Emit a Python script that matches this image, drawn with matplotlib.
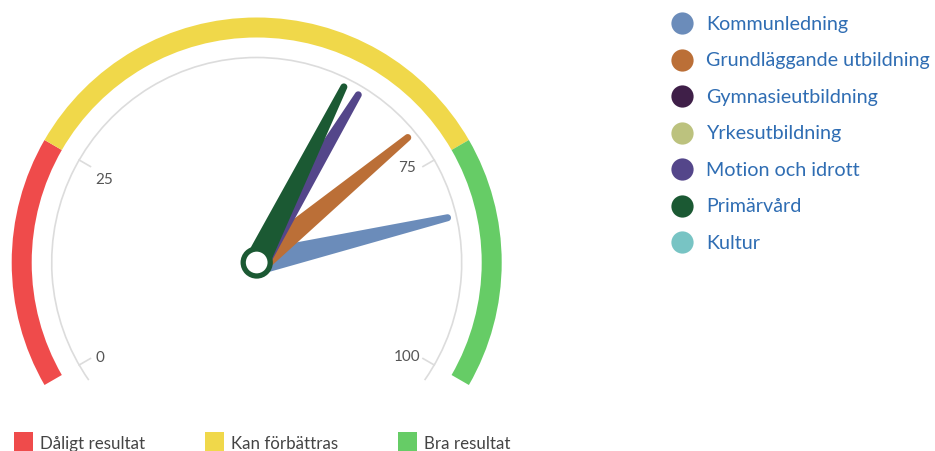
"""
Mätare (gauge) med visare per verksamhetsområde.

Kör:
    python3 plot.py
Skapar:
    out.png
"""

import numpy as np
from matplotlib import pyplot as plt
from matplotlib.patches import Wedge, Arc, Circle, Polygon, Rectangle

plt.rcParams["font.family"] = ["Lato", "DejaVu Sans"]

# --- data ---
series_names = [
    "Kommunledning",
    "Grundläggande utbildning",
    "Gymnasieutbildning",
    "Yrkesutbildning",
    "Motion och idrott",
    "Primärvård",
    "Kultur",
]
series_values = [82, 71, None, None, 63, 61, None]
series_colors = ["#6b8cba", "#bb6f37", "#3f1f48", "#bcc27e", "#54468a", "#1b5933", "#78c4c4"]

band_names = ["Dåligt resultat", "Kan förbättras", "Bra resultat"]
band_from = [0, 25, 75]
band_to = [25, 75, 100]
band_colors = ["#ef4b4b", "#f0d84a", "#66cc66"]

tick_values = [0, 25, 75, 100]
tick_labels = ["0", "25", "75", "100"]

# --- layout (pixel units, y upwards) ---
W, H = 935, 452
CX, CY = 256.7, H - 263.5
R_BAND, BAND_W = 245, 20
R_AXIS = 205
NEEDLE_LEN = 196
BASE_W, TOP_W = 25, 7
START, SWEEP = 210.0, 240.0
# små förskjutningar av tick-etiketter (px)
LABEL_NUDGE = [(-3, -5), (2, -6), (-4, 6), (-4, -5)]


def val2ang(v):
    """värde -> vinkel i grader (matematisk konvention)."""
    return START - v / 100.0 * SWEEP


def needle_poly(v):
    a = np.radians(val2ang(v))
    u = np.array([np.cos(a), np.sin(a)])
    n = np.array([-np.sin(a), np.cos(a)])
    c = np.array([CX, CY])
    pts = [c - n * BASE_W / 2, c + u * NEEDLE_LEN - n * TOP_W / 2]
    for t in np.linspace(-np.pi / 2, np.pi / 2, 15):
        pts.append(c + u * NEEDLE_LEN + (u * np.cos(t) + n * np.sin(t)) * TOP_W / 2)
    pts.append(c + n * BASE_W / 2)
    return np.array(pts)


fig = plt.figure(figsize=(W / 100, H / 100), dpi=100)
ax = fig.add_axes([0, 0, 1, 1])
ax.set_xlim(0, W)
ax.set_ylim(0, H)
ax.set_aspect("equal")
ax.axis("off")

# färgband
for lo, hi, col in zip(band_from, band_to, band_colors):
    ax.add_patch(Wedge((CX, CY), R_BAND, val2ang(hi), val2ang(lo), width=BAND_W,
                       facecolor=col, edgecolor="none"))

# axelbåge + tickar
ax.add_patch(Arc((CX, CY), 2 * R_AXIS, 2 * R_AXIS, theta1=-35, theta2=215,
                 color="#dcdcdc", lw=1.2))
for v, lab, (dx, dy) in zip(tick_values, tick_labels, LABEL_NUDGE):
    a = np.radians(val2ang(v))
    ax.plot([CX + R_AXIS * np.cos(a), CX + (R_AXIS - 13) * np.cos(a)],
            [CY + R_AXIS * np.sin(a), CY + (R_AXIS - 13) * np.sin(a)],
            color="#dcdcdc", lw=1.2)
    ax.text(CX + 178 * np.cos(a) + dx, CY + 178 * np.sin(a) + dy, lab, fontsize=11,
            color="#555555", ha="center", va="center")

# visare
for v, col in zip(series_values, series_colors):
    if v is None:
        continue
    ax.add_patch(Polygon(needle_poly(v), closed=True, facecolor=col, edgecolor="none"))
ax.add_patch(Circle((CX, CY), 13.5, facecolor="white", edgecolor=series_colors[5], lw=3.8, zorder=5))

# legend höger
for i, (name, col) in enumerate(zip(series_names, series_colors)):
    y = H - (24.3 + i * 36.5)
    ax.plot(681.7, y, "o", ms=16, color=col, mec="none")
    ax.text(706.5, y, name, fontsize=14.2, color="#2f6db3", ha="left", va="center")

# legend nederkant
for x0, name, col in zip([13.5, 205, 398], band_names, band_colors):
    ax.add_patch(Rectangle((x0, H - 452), 19, 19, facecolor=col, edgecolor="none"))
    ax.text(x0 + 26, H - 449, name, fontsize=12.2, color="#444444", ha="left", va="baseline")

fig.savefig("out.png", dpi=100)
